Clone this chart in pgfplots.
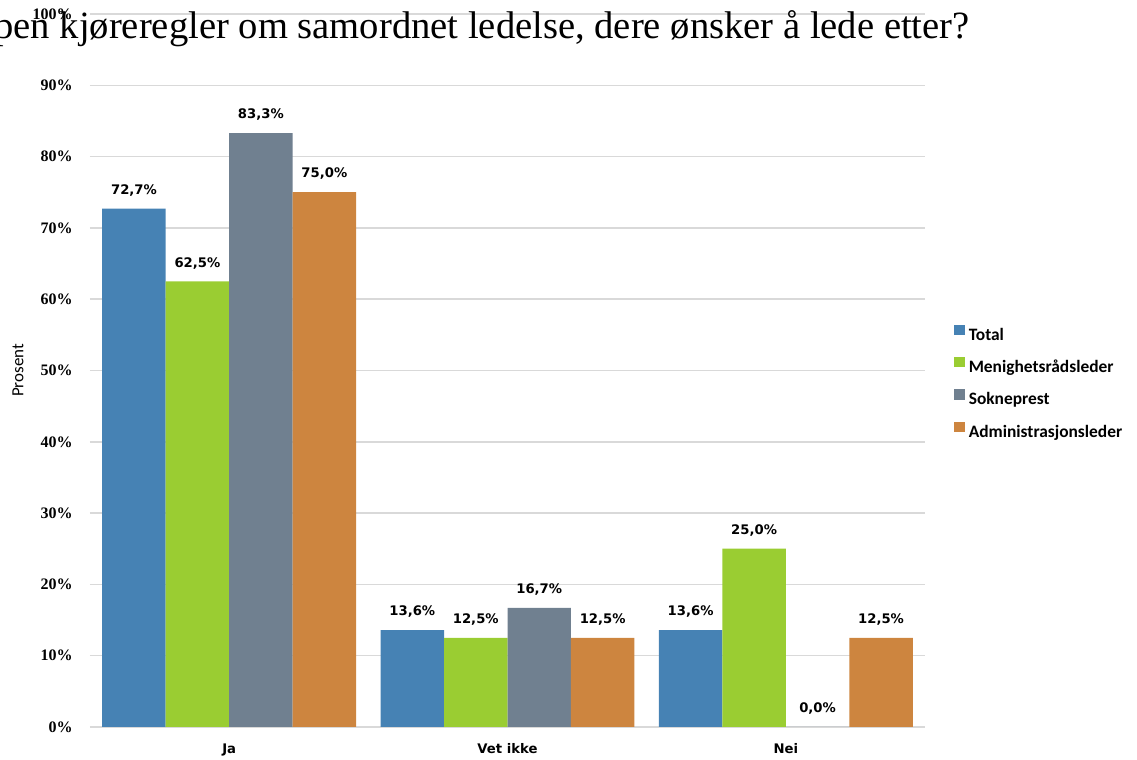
\documentclass[border=0pt]{standalone}
\usepackage{fontspec}
\setmainfont{Liberation Serif}
\newfontfamily\carl{Carlito}
\newfontfamily\dvs{DejaVu Sans}
\usepackage{pgfplots}
\pgfplotsset{compat=1.18}
\definecolor{cTotal}{RGB}{70,130,180}
\definecolor{cMen}{RGB}{154,205,50}
\definecolor{cSok}{RGB}{112,128,144}
\definecolor{cAdm}{RGB}{205,133,63}
\definecolor{gridgray}{RGB}{217,217,217}
\begin{document}
\begin{tikzpicture}
\useasboundingbox (0,0) rectangle (568.5pt,380pt);
\begin{axis}[
  at={(45pt,16.5pt)}, anchor=south west,
  scale only axis, width=417.5pt, height=356.5pt,
  xmin=-0.5, xmax=2.5, ymin=0, ymax=100,
  ybar=0pt, bar width=0.228,
  xtick={0,1,2}, xticklabels={Ja,Vet ikke,Nei},
  ytick={0,10,20,30,40,50,60,70,80,90,100},
  yticklabels={0\%,10\%,20\%,30\%,40\%,50\%,60\%,70\%,80\%,90\%,100\%},
  axis line style={draw=none},
  major tick length=0pt,
  ymajorgrids, grid style={draw=gridgray, line width=0.75pt},
  yticklabel style={font=\bfseries\fontsize{8}{9}\selectfont, inner sep=0pt, anchor=east, xshift=-8.5pt},
  xticklabel style={font=\dvs\bfseries\fontsize{6.6}{8}\selectfont, inner sep=0pt, anchor=north, yshift=-8pt},
  ylabel={Prosent},
  ylabel style={font=\carl\fontsize{8.5}{10}\selectfont, at={(axis description cs:-0.0862,0.5)}, anchor=center},
  nodes near coords={\pgfmathprintnumber[fixed,fixed zerofill,precision=1,use comma,assume math mode=true]{\pgfplotspointmeta}\%},
  nodes near coords style={font=\dvs\bfseries\fontsize{6.6}{8}\selectfont, anchor=south, inner sep=0pt, yshift=6pt, text=black},
  legend style={draw=none, fill=none, at={(1.0347,0.4832)}, anchor=west, inner sep=0pt,
    font=\carl\bfseries\fontsize{8.7}{10}\selectfont,
    nodes={inner sep=0pt, text height=6pt, text depth=1.5pt}, row sep=6.9pt,
    /tikz/every odd column/.style={column sep=2pt}},
  legend cell align=left,
  legend image code/.code={\fill[#1,draw=none] (0pt,0.3pt) rectangle (5.2pt,5.5pt);},
]
\addplot[fill=cTotal, draw=none] coordinates {(0,72.7) (1,13.6) (2,13.6)};
\addplot[fill=cMen, draw=none] coordinates {(0,62.5) (1,12.5) (2,25.0)};
\addplot[fill=cSok, draw=none] coordinates {(0,83.3) (1,16.7) (2,0.0)};
\addplot[fill=cAdm, draw=none] coordinates {(0,75.0) (1,12.5) (2,12.5)};
\legend{Total,Menighetsrådsleder,Sokneprest,Administrasjonsleder}
\end{axis}
\node[anchor=base east, inner sep=0pt, font=\fontsize{19.3}{22}\selectfont] at (485pt,360.5pt) {pen kjøreregler om samordnet ledelse, dere ønsker å lede etter?};
\end{tikzpicture}
\end{document}
